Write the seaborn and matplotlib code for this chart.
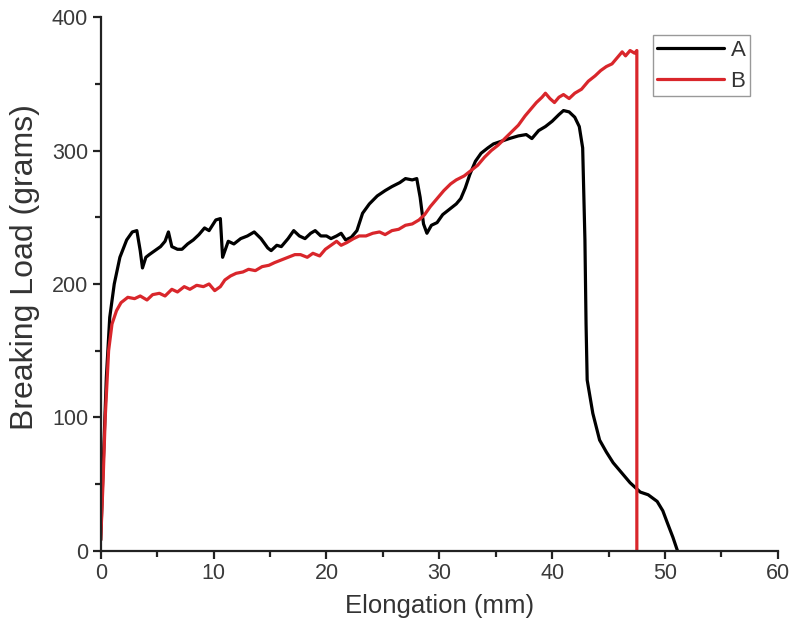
import numpy as np
import pandas as pd
import matplotlib
matplotlib.use('Agg')
import matplotlib.pyplot as plt
import seaborn as sns
from matplotlib.ticker import MultipleLocator

# Sample A (black)
elong_a = [0.0, 0.2, 0.5, 0.8, 1.2, 1.7, 2.3, 2.8, 3.2, 3.5, 3.7, 4.0, 4.3, 4.8, 5.3, 5.7,
           6.0, 6.3, 6.8, 7.2, 7.7, 8.2, 8.7, 9.2, 9.6, 10.2, 10.6, 10.8, 11.3, 11.8, 12.4,
           13.0, 13.6, 14.2, 14.8, 15.1, 15.6, 16.0, 16.6, 17.1, 17.6, 18.1, 18.6, 19.0,
           19.5, 20.0, 20.4, 20.9, 21.3, 21.7, 22.2, 22.7, 23.2, 23.8, 24.5, 25.2, 25.8,
           26.5, 27.0, 27.6, 28.0, 28.3, 28.6, 28.9, 29.3, 29.8, 30.3, 30.9, 31.5, 31.9,
           32.3, 32.7, 33.2, 33.7, 34.3, 34.8, 35.5, 36.2, 37.0, 37.7, 38.2, 38.8, 39.4,
           40.0, 40.6, 41.0, 41.5, 42.0, 42.4, 42.7, 42.9, 43.0, 43.1, 43.6, 44.2, 44.8,
           45.4, 46.2, 46.9, 47.8, 48.5, 49.3, 49.8, 50.2, 50.7, 51.1]
load_a = [8, 60, 130, 175, 200, 220, 233, 239, 240, 225, 212, 220, 222, 225, 228, 232,
          239, 228, 226, 226, 230, 233, 237, 242, 240, 248, 249, 220, 232, 230, 234,
          236, 239, 234, 227, 225, 229, 228, 234, 240, 236, 234, 238, 240,
          236, 236, 234, 236, 238, 233, 235, 240, 253, 260, 266, 270, 273,
          276, 279, 278, 279, 265, 245, 238, 244, 246, 252, 256, 260, 264,
          272, 282, 292, 298, 302, 305, 307, 309, 311, 312, 309, 315, 318,
          322, 327, 330, 329, 325, 318, 302, 233, 170, 128, 103, 83, 74,
          66, 58, 51, 44, 42, 37, 30, 21, 10, 0]

# Sample B (red)
elong_b = [0.0, 0.2, 0.4, 0.7, 1.0, 1.4, 1.8, 2.4, 3.0, 3.5, 4.1, 4.6, 5.2, 5.7, 6.3, 6.8,
           7.4, 7.9, 8.5, 9.1, 9.6, 10.1, 10.6, 11.0, 11.5, 12.0, 12.6, 13.1, 13.7, 14.3,
           14.9, 15.4, 16.0, 16.6, 17.2, 17.7, 18.3, 18.8, 19.4, 19.9, 20.4, 20.9, 21.3,
           21.8, 22.4, 22.9, 23.5, 24.1, 24.7, 25.2, 25.8, 26.4, 27.0, 27.6, 28.2, 28.7,
           29.2, 29.8, 30.4, 31.0, 31.5, 32.2, 32.8, 33.4, 34.0, 34.6, 35.2, 35.8, 36.4,
           37.0, 37.6, 38.1, 38.6, 39.1, 39.4, 39.8, 40.2, 40.6, 41.0, 41.5, 42.0, 42.6,
           43.2, 43.8, 44.3, 44.8, 45.3, 45.8, 46.2, 46.5, 46.9, 47.3, 47.5, 47.5]
load_b = [8, 50, 100, 150, 170, 180, 186, 190, 189, 191, 188, 192, 193, 191, 196, 194,
          198, 196, 199, 198, 200, 195, 198, 203, 206, 208, 209, 211, 210, 213,
          214, 216, 218, 220, 222, 222, 220, 223, 221, 226, 229, 232, 229,
          231, 234, 236, 236, 238, 239, 237, 240, 241, 244, 245, 248, 252,
          258, 264, 270, 275, 278, 281, 285, 289, 295, 300, 304, 309, 314,
          319, 326, 331, 336, 340, 343, 339, 336, 340, 342, 339, 343, 346,
          352, 356, 360, 363, 365, 370, 374, 371, 375, 373, 375, 0]

sns.set_style('ticks')
plt.rcParams['font.family'] = ['Liberation Sans', 'DejaVu Sans']

fig = plt.figure(figsize=(7.93, 6.36), dpi=100)
ax = fig.add_axes([0.127, 0.134, 0.854, 0.839])

sns.lineplot(x=elong_a, y=load_a, sort=False, estimator=None, color='black', lw=2.3, label='A', ax=ax)
sns.lineplot(x=elong_b, y=load_b, sort=False, estimator=None, color='#d9262b', lw=2.3, label='B', ax=ax)

ax.set_xlim(0, 60)
ax.set_ylim(0, 400)
ax.xaxis.set_major_locator(MultipleLocator(10))
ax.xaxis.set_minor_locator(MultipleLocator(5))
ax.yaxis.set_major_locator(MultipleLocator(100))
ax.yaxis.set_minor_locator(MultipleLocator(50))
ax.tick_params(which='major', length=6, width=1.6, labelsize=15.5, colors='#222222',
               labelcolor='#3a3a3a', pad=3)
ax.tick_params(which='minor', length=4, width=1.6, colors='#222222')
sns.despine(ax=ax)
for s in ['left', 'bottom']:
    ax.spines[s].set_linewidth(1.6)
    ax.spines[s].set_color('#222222')

ax.set_xlabel('Elongation (mm)', fontsize=18.5, color='#333333', labelpad=7)
ax.set_ylabel('Breaking Load (grams)', fontsize=23, color='#333333')
ax.yaxis.set_label_coords(-0.09, 0.532)

leg = ax.legend(loc='upper right', bbox_to_anchor=(0.975, 0.987), fontsize=16, handlelength=3.0,
                fancybox=False, framealpha=1, edgecolor='#999999', borderpad=0.2,
                labelspacing=0.45, handletextpad=0.3)
for t in leg.get_texts():
    t.set_color('#333333')

plt.savefig('out.png', dpi=100)
